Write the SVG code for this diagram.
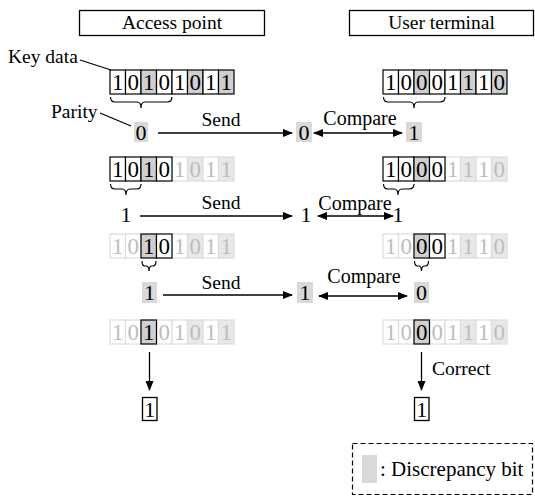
<svg xmlns="http://www.w3.org/2000/svg" width="535" height="503" viewBox="0 0 535 503" font-family="'Liberation Serif', 'Times New Roman', serif">
<style>
text{font-family:'Liberation Serif','Times New Roman',serif;fill:#000}
.lbl{font-size:19.5px}
.cmp{font-size:20px;text-anchor:middle}
.hd{font-size:19.5px;text-anchor:middle}
.d{font-size:23px;text-anchor:middle}
.df{font-size:23px;text-anchor:middle;fill:#bdbdbd}
.p{font-size:22px;text-anchor:middle}
.c{fill:#fff;stroke:#000;stroke-width:1.2}
.cg{fill:#cfcfcf;stroke:#000;stroke-width:1.2}
.f{fill:#fff;stroke:#dcdcdc;stroke-width:1.2}
.fg{fill:#e8e8e8;stroke:#dcdcdc;stroke-width:1.2}
.g{fill:#d9d9d9}
.box{fill:#fff;stroke:#000;stroke-width:1.3}
.ln{fill:none;stroke:#000;stroke-width:1.3}
.br{fill:none;stroke:#000;stroke-width:1.2}
</style>
<defs>
<marker id="ah" markerWidth="10" markerHeight="8" refX="9" refY="4" orient="auto-start-reverse" markerUnits="userSpaceOnUse">
<path d="M0,0 L10,4 L0,8 Z" fill="#000"/>
</marker>
</defs>

<g id="header-ap"><rect class="box" x="79.5" y="10.5" width="185" height="25"/><text class="hd" x="172" y="29">Access point</text></g>
<g id="header-ut"><rect class="box" x="349.5" y="10.5" width="184" height="25"/><text class="hd" x="441.5" y="29">User terminal</text></g>

<g id="label-key"><text class="lbl" x="8" y="63">Key data</text></g>
<g id="label-parity"><text class="lbl" x="51" y="118">Parity</text></g>

<!-- Row 1 AP -->
<g id="ap-row1">
<rect class="c" x="110" y="70" width="15.5" height="24"/><rect class="c" x="125.5" y="70" width="15.5" height="24"/><rect class="cg" x="141" y="70" width="15.5" height="24"/><rect class="c" x="156.5" y="70" width="15.5" height="24"/><rect class="c" x="172" y="70" width="15.5" height="24"/><rect class="cg" x="187.5" y="70" width="15.5" height="24"/><rect class="c" x="203" y="70" width="15.5" height="24"/><rect class="cg" x="218.5" y="70" width="15.5" height="24"/>
<text class="d" x="117.75" y="90">1</text><text class="d" x="133.25" y="90">0</text><text class="d" x="148.75" y="90">1</text><text class="d" x="164.25" y="90">0</text><text class="d" x="179.75" y="90">1</text><text class="d" x="195.25" y="90">0</text><text class="d" x="210.75" y="90">1</text><text class="d" x="226.25" y="90">1</text>
</g>
<!-- Row 1 UT -->
<g id="ut-row1">
<rect class="c" x="383" y="70" width="15.5" height="24"/><rect class="c" x="398.5" y="70" width="15.5" height="24"/><rect class="cg" x="414" y="70" width="15.5" height="24"/><rect class="c" x="429.5" y="70" width="15.5" height="24"/><rect class="c" x="445" y="70" width="15.5" height="24"/><rect class="cg" x="460.5" y="70" width="15.5" height="24"/><rect class="c" x="476" y="70" width="15.5" height="24"/><rect class="cg" x="491.5" y="70" width="15.5" height="24"/>
<text class="d" x="390.75" y="90">1</text><text class="d" x="406.25" y="90">0</text><text class="d" x="421.75" y="90">0</text><text class="d" x="437.25" y="90">0</text><text class="d" x="452.75" y="90">1</text><text class="d" x="468.25" y="90">1</text><text class="d" x="483.75" y="90">1</text><text class="d" x="499.25" y="90">0</text>
</g>

<!-- Row 2 AP -->
<g id="ap-row2">
<rect class="f" x="172" y="157" width="15.5" height="24"/><rect class="fg" x="187.5" y="157" width="15.5" height="24"/><rect class="f" x="203" y="157" width="15.5" height="24"/><rect class="fg" x="218.5" y="157" width="15.5" height="24"/>
<rect class="c" x="110" y="157" width="15.5" height="24"/><rect class="c" x="125.5" y="157" width="15.5" height="24"/><rect class="cg" x="141" y="157" width="15.5" height="24"/><rect class="c" x="156.5" y="157" width="15.5" height="24"/>
<text class="d" x="117.75" y="177">1</text><text class="d" x="133.25" y="177">0</text><text class="d" x="148.75" y="177">1</text><text class="d" x="164.25" y="177">0</text><text class="df" x="179.75" y="177">1</text><text class="df" x="195.25" y="177">0</text><text class="df" x="210.75" y="177">1</text><text class="df" x="226.25" y="177">1</text>
</g>
<!-- Row 2 UT -->
<g id="ut-row2">
<rect class="f" x="445" y="157" width="15.5" height="24"/><rect class="fg" x="460.5" y="157" width="15.5" height="24"/><rect class="f" x="476" y="157" width="15.5" height="24"/><rect class="fg" x="491.5" y="157" width="15.5" height="24"/>
<rect class="c" x="383" y="157" width="15.5" height="24"/><rect class="c" x="398.5" y="157" width="15.5" height="24"/><rect class="cg" x="414" y="157" width="15.5" height="24"/><rect class="c" x="429.5" y="157" width="15.5" height="24"/>
<text class="d" x="390.75" y="177">1</text><text class="d" x="406.25" y="177">0</text><text class="d" x="421.75" y="177">0</text><text class="d" x="437.25" y="177">0</text><text class="df" x="452.75" y="177">1</text><text class="df" x="468.25" y="177">1</text><text class="df" x="483.75" y="177">1</text><text class="df" x="499.25" y="177">0</text>
</g>

<!-- Row 3 AP -->
<g id="ap-row3">
<rect class="f" x="110" y="234" width="15.5" height="24"/><rect class="f" x="125.5" y="234" width="15.5" height="24"/><rect class="f" x="172" y="234" width="15.5" height="24"/><rect class="fg" x="187.5" y="234" width="15.5" height="24"/><rect class="f" x="203" y="234" width="15.5" height="24"/><rect class="fg" x="218.5" y="234" width="15.5" height="24"/>
<rect class="cg" x="141" y="234" width="15.5" height="24"/><rect class="c" x="156.5" y="234" width="15.5" height="24"/>
<text class="df" x="117.75" y="254">1</text><text class="df" x="133.25" y="254">0</text><text class="d" x="148.75" y="254">1</text><text class="d" x="164.25" y="254">0</text><text class="df" x="179.75" y="254">1</text><text class="df" x="195.25" y="254">0</text><text class="df" x="210.75" y="254">1</text><text class="df" x="226.25" y="254">1</text>
</g>
<!-- Row 3 UT -->
<g id="ut-row3">
<rect class="f" x="383" y="234" width="15.5" height="24"/><rect class="f" x="398.5" y="234" width="15.5" height="24"/><rect class="f" x="445" y="234" width="15.5" height="24"/><rect class="fg" x="460.5" y="234" width="15.5" height="24"/><rect class="f" x="476" y="234" width="15.5" height="24"/><rect class="fg" x="491.5" y="234" width="15.5" height="24"/>
<rect class="cg" x="414" y="234" width="15.5" height="24"/><rect class="c" x="429.5" y="234" width="15.5" height="24"/>
<text class="df" x="390.75" y="254">1</text><text class="df" x="406.25" y="254">0</text><text class="d" x="421.75" y="254">0</text><text class="d" x="437.25" y="254">0</text><text class="df" x="452.75" y="254">1</text><text class="df" x="468.25" y="254">1</text><text class="df" x="483.75" y="254">1</text><text class="df" x="499.25" y="254">0</text>
</g>

<!-- Row 4 AP -->
<g id="ap-row4">
<rect class="f" x="110" y="320" width="15.5" height="24"/><rect class="f" x="125.5" y="320" width="15.5" height="24"/><rect class="f" x="156.5" y="320" width="15.5" height="24"/><rect class="f" x="172" y="320" width="15.5" height="24"/><rect class="fg" x="187.5" y="320" width="15.5" height="24"/><rect class="f" x="203" y="320" width="15.5" height="24"/><rect class="fg" x="218.5" y="320" width="15.5" height="24"/>
<rect class="cg" x="141" y="320" width="15.5" height="24"/>
<text class="df" x="117.75" y="340">1</text><text class="df" x="133.25" y="340">0</text><text class="d" x="148.75" y="340">1</text><text class="df" x="164.25" y="340">0</text><text class="df" x="179.75" y="340">1</text><text class="df" x="195.25" y="340">0</text><text class="df" x="210.75" y="340">1</text><text class="df" x="226.25" y="340">1</text>
</g>
<!-- Row 4 UT -->
<g id="ut-row4">
<rect class="f" x="383" y="320" width="15.5" height="24"/><rect class="f" x="398.5" y="320" width="15.5" height="24"/><rect class="f" x="429.5" y="320" width="15.5" height="24"/><rect class="f" x="445" y="320" width="15.5" height="24"/><rect class="fg" x="460.5" y="320" width="15.5" height="24"/><rect class="f" x="476" y="320" width="15.5" height="24"/><rect class="fg" x="491.5" y="320" width="15.5" height="24"/>
<rect class="cg" x="414" y="320" width="15.5" height="24"/>
<text class="df" x="390.75" y="340">1</text><text class="df" x="406.25" y="340">0</text><text class="d" x="421.75" y="340">0</text><text class="df" x="437.25" y="340">0</text><text class="df" x="452.75" y="340">1</text><text class="df" x="468.25" y="340">1</text><text class="df" x="483.75" y="340">1</text><text class="df" x="499.25" y="340">0</text>
</g>

<!-- Parity values -->
<g id="p1-ap"><rect class="g" x="134" y="122" width="14" height="20"/><text class="p" x="141" y="139.5">0</text></g>
<g id="p1-mid"><rect class="g" x="296" y="122" width="16" height="20"/><text class="p" x="304" y="139.5">0</text></g>
<g id="p1-ut"><rect class="g" x="406" y="122" width="16" height="20"/><text class="p" x="414" y="139.5">1</text></g>
<g id="p2-ap"><text class="p" x="126" y="222">1</text></g>
<g id="p2-mid"><text class="p" x="306" y="222">1</text></g>
<g id="p2-ut"><text class="p" x="398" y="222">1</text></g>
<g id="p3-ap"><rect class="g" x="142" y="282" width="15" height="21"/><text class="p" x="149.5" y="300">1</text></g>
<g id="p3-mid"><rect class="g" x="297" y="282" width="16" height="21"/><text class="p" x="305" y="300">1</text></g>
<g id="p3-ut"><rect class="g" x="414" y="282" width="15" height="21"/><text class="p" x="421.5" y="300">0</text></g>

<g id="res-ap"><rect class="box" x="142.5" y="397.5" width="14.5" height="23"/><text class="p" x="149.75" y="416.5">1</text></g>
<g id="res-ut"><rect class="box" x="414.5" y="397.5" width="14.5" height="23"/><text class="p" x="421.75" y="416.5">1</text></g>

<g id="legend">
<rect x="352.5" y="443.5" width="180" height="51" fill="none" stroke="#000" stroke-width="1.2" stroke-dasharray="5,3"/>
<rect class="g" x="362" y="455" width="15" height="28"/>
<text class="lbl" x="380" y="476" style="font-size:21px">: Discrepancy bit</text>
</g>

<g id="connectors">
<line class="ln" x1="80" y1="60" x2="111" y2="70"/>
<line class="ln" x1="100" y1="113" x2="131" y2="126"/>
<path class="br" d="M110.5,97 Q110.5,102 115,102 L137,102 Q141,102 141,108 Q141,102 145,102 L167,102 Q172,102 172,97"/>
<path class="br" d="M383.5,97 Q383.5,102 388,102 L410,102 Q414,102 414,108 Q414,102 418,102 L440,102 Q445,102 445,97"/>
<path class="br" d="M110.5,184 Q110.5,189 115,189 L122,189 Q126,189 126,195 Q126,189 130,189 L137,189 Q141,189 141,184"/>
<path class="br" d="M383.5,184 Q383.5,189 388,189 L394,189 Q398,189 398,195 Q398,189 402,189 L409,189 Q414,189 414,184"/>
<path class="br" d="M142,261 Q142,266 145,266 L146,266 Q149,266 149,271 Q149,266 152,266 L153,266 Q156,266 156,261"/>
<path class="br" d="M414.5,261 Q414.5,266 417.5,266 L418.5,266 Q421.5,266 421.5,271 Q421.5,266 424.5,266 L425.5,266 Q428.5,266 428.5,261"/>

<line class="ln" x1="158" y1="133" x2="292" y2="133" marker-end="url(#ah)"/>
<text class="lbl" x="221" y="126" text-anchor="middle">Send</text>
<line class="ln" x1="314" y1="133" x2="402" y2="133" marker-start="url(#ah)" marker-end="url(#ah)"/>
<text class="cmp" x="360" y="125">Compare</text>

<line class="ln" x1="140" y1="216" x2="292" y2="216" marker-end="url(#ah)"/>
<text class="lbl" x="221" y="209" text-anchor="middle">Send</text>
<line class="ln" x1="318" y1="216" x2="393" y2="216" marker-start="url(#ah)" marker-end="url(#ah)"/>
<text class="cmp" x="355" y="210">Compare</text>

<line class="ln" x1="163" y1="295" x2="292" y2="295" marker-end="url(#ah)"/>
<text class="lbl" x="221" y="289" text-anchor="middle">Send</text>
<line class="ln" x1="319" y1="296" x2="407" y2="296" marker-start="url(#ah)" marker-end="url(#ah)"/>
<text class="cmp" x="364" y="283">Compare</text>

<line class="ln" x1="149.5" y1="352" x2="149.5" y2="390" marker-end="url(#ah)"/>
<line class="ln" x1="421.5" y1="352" x2="421.5" y2="390" marker-end="url(#ah)"/>
<text class="lbl" x="432" y="375">Correct</text>
</g>
</svg>
